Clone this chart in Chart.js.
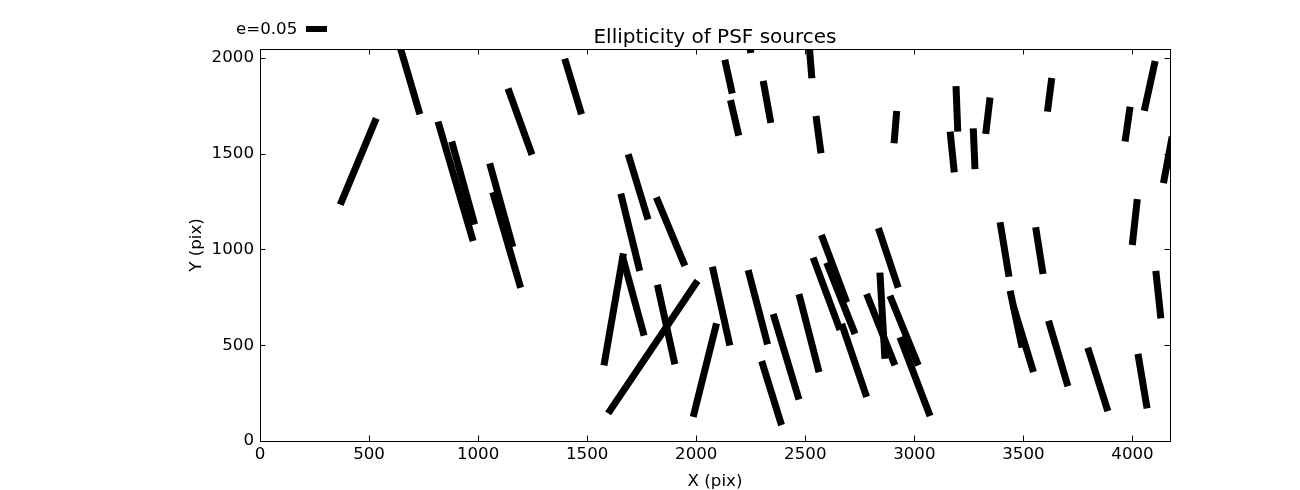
<!DOCTYPE html>
<html>
<head>
<meta charset="utf-8">
<title>Ellipticity of PSF sources</title>
<script src="https://cdn.jsdelivr.net/npm/chart.js@4.4.1/dist/chart.umd.min.js"></script>
<style>
  html, body { margin: 0; padding: 0; background: #fff; }
  #wrap { width: 1300px; height: 490px; }
</style>
</head>
<body>
<div id="wrap"><canvas id="psfChart" width="1300" height="490"></canvas></div>
<script>
// whisker end points (pix), one whisker per index: (x0,y0) -> (x1,y1)
const x0 = [368, 633, 816, 879, 1053, 1067, 1137, 1397, 1688, 1654, 1817, 1577, 1661, 1596, 1822, 1986, 2074, 2238,
            2300, 2353, 2471, 2536, 2574, 2598, 2667, 2842, 2781, 2835, 2888, 2934, 3393, 3556, 3439, 3453, 3615, 3795,
            4025, 4107, 4022, 3191, 3164, 3270, 3347, 3630, 3989, 4104, 4142, 2250, 2131, 2157, 2307, 2515, 2549, 2919];
const y0 = [1234, 2092, 1667, 1563, 1449, 1298, 1840, 1995, 1497, 1291, 1272, 395, 966, 144, 815, 126, 909, 892,
            417, 663, 767, 957, 1075, 931, 611, 879, 767, 1111, 758, 542, 1142, 1116, 784, 706, 628, 487,
            455, 888, 1262, 1852, 1615, 1632, 1793, 1895, 1745, 1983, 1346, 2025, 1990, 1779, 1880, 2108, 1696, 1722];
const x1 = [533, 733, 977, 984, 1159, 1195, 1247, 1474, 1779, 1741, 1948, 1666, 1761, 2006, 1902, 2093, 2154, 2327,
            2391, 2471, 2563, 2659, 2690, 2728, 2781, 2865, 2911, 2926, 3018, 3072, 3434, 3590, 3494, 3546, 3704, 3887,
            4067, 4130, 3999, 3199, 3183, 3278, 3327, 3610, 3966, 4054, 4182, 2232, 2165, 2195, 2342, 2530, 2572, 2907];
const y1 = [1684, 1706, 1044, 1130, 1013, 800, 1494, 1705, 1156, 888, 914, 979, 550, 836, 400, 614, 498, 504,
            83, 217, 360, 580, 723, 559, 230, 429, 395, 801, 395, 130, 857, 872, 488, 360, 286, 156,
            170, 640, 1023, 1615, 1402, 1419, 1603, 1719, 1563, 1724, 1589, 2186, 1814, 1594, 1661, 1893, 1502, 1554];

const xTicks = [0, 500, 1000, 1500, 2000, 2500, 3000, 3500, 4000];
const yTicks = [0, 500, 1000, 1500, 2000];
const keyLabel = 'e=0.05';
const titleText = 'Ellipticity of PSF sources';

const FONT = 'DejaVu Sans';
const TICK_LEN = 5.5;

// one dataset per whisker
const datasets = x0.map((_, i) => ({
    data: [{x: x0[i], y: y0[i]}, {x: x1[i], y: y1[i]}],
    showLine: true,
    borderColor: '#000',
    borderWidth: 7,
    borderCapStyle: 'butt',
    pointRadius: 0,
    pointHoverRadius: 0,
    clip: 0
}));

// frame + inward ticks on all four sides (matplotlib classic look)
const frameTicks = {
    id: 'frameTicks',
    afterDatasetsDraw(chart) {
        const {ctx, chartArea: a, scales: {x, y}} = chart;
        ctx.save();
        ctx.strokeStyle = '#000';
        ctx.lineWidth = 1;
        ctx.beginPath();
        x.ticks.forEach(t => {
            const px = Math.round(x.getPixelForValue(t.value)) + 0.5;
            ctx.moveTo(px, a.bottom); ctx.lineTo(px, a.bottom - TICK_LEN);
            ctx.moveTo(px, a.top); ctx.lineTo(px, a.top + TICK_LEN);
        });
        y.ticks.forEach(t => {
            const py = Math.round(y.getPixelForValue(t.value)) + 0.5;
            ctx.moveTo(a.left, py); ctx.lineTo(a.left + TICK_LEN, py);
            ctx.moveTo(a.right, py); ctx.lineTo(a.right - TICK_LEN, py);
        });
        ctx.stroke();
        ctx.strokeRect(a.left + 0.5, a.top + 0.5, a.right - a.left, a.bottom - a.top);
        ctx.restore();
    },
    afterDraw(chart) {
        const {ctx, chartArea: a} = chart;
        ctx.save();
        ctx.fillStyle = '#000';
        ctx.font = '20px "' + FONT + '"';
        ctx.textAlign = 'center';
        ctx.textBaseline = 'alphabetic';
        ctx.fillText(titleText, (a.left + a.right) / 2, 43);
        // key
        ctx.font = '16.67px "' + FONT + '"';
        ctx.textAlign = 'left';
        ctx.textBaseline = 'middle';
        ctx.fillText(keyLabel, 236, 30);
        ctx.fillRect(306, 26, 21, 6);
        ctx.restore();
    }
};

const plainTick = v => String(v);

const ctx = document.getElementById('psfChart').getContext('2d');
const psfChart = new Chart(ctx, {
    type: 'scatter',
    data: { datasets },
    options: {
        responsive: false,
        animation: false,
        events: [],
        devicePixelRatio: 1,
        layout: { padding: { left: 183, right: 130, top: 49, bottom: 0 } },
        plugins: { legend: { display: false }, tooltip: { enabled: false } },
        scales: {
            x: {
                type: 'linear',
                min: 0,
                max: 4172,
                afterBuildTicks: s => { s.ticks = xTicks.map(v => ({value: v})); },
                afterFit: s => { s.height = 49; },
                grid: { display: false, drawTicks: false },
                border: { display: false },
                ticks: { color: '#000', padding: 4, maxRotation: 0, callback: plainTick,
                         font: { family: FONT, size: 16.67 } },
                title: { display: true, text: 'X (pix)', color: '#000', padding: { top: 0, bottom: -2 },
                         font: { family: FONT, size: 16.67 } }
            },
            y: {
                type: 'linear',
                min: 0,
                max: 2046,
                afterBuildTicks: s => { s.ticks = yTicks.map(v => ({value: v})); },
                afterFit: s => { s.width = 77; },
                grid: { display: false, drawTicks: false },
                border: { display: false },
                ticks: { color: '#000', padding: 6, callback: plainTick,
                         font: { family: FONT, size: 16.67 } },
                title: { display: true, text: 'Y (pix)', color: '#000', padding: { top: 4, bottom: 0 },
                         font: { family: FONT, size: 16.67 } }
            }
        }
    },
    plugins: [frameTicks]
});
</script>
</body>
</html>
